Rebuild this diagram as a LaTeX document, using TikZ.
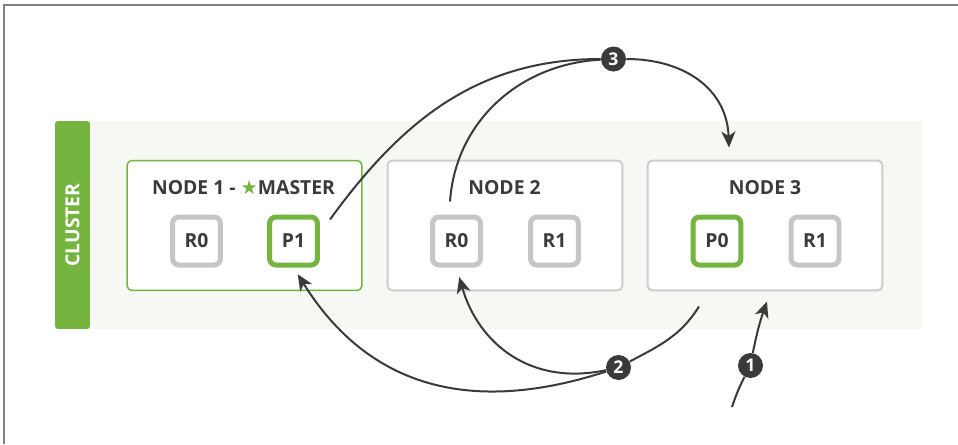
\documentclass[tikz,border=0pt]{standalone}
\usepackage{fontspec}
\setmainfont{Open Sans}
\newfontfamily\starfont{DejaVu Sans}
\usetikzlibrary{arrows.meta}

\definecolor{esgreen}{HTML}{74B43F}
\definecolor{shardgray}{HTML}{C6C6C6}
\definecolor{boxgray}{HTML}{CDCDCD}
\definecolor{clusterbg}{HTML}{F6F8F3}
\definecolor{inkdark}{HTML}{3A3A3A}

\tikzset{
	esnode/.style={draw=boxgray, line width=0.04cm, fill=white, rounded corners=0.1cm, minimum width=4.7cm, minimum height=2.6cm},
	shard/.style={draw=shardgray, line width=0.1cm, fill=white, rounded corners=0.13cm, minimum size=0.96cm, inner sep=0pt, font=\fontsize{11}{13}\selectfont\bfseries, text=inkdark},
	primary/.style={shard, draw=esgreen},
	title/.style={font=\fontsize{11}{13}\selectfont\bfseries, text=inkdark},
	stepdot/.style={circle, fill=inkdark, minimum size=0.5cm, inner sep=0pt, text=white, font=\fontsize{10}{12}\selectfont\bfseries},
	link/.style={draw=inkdark, line width=0.04cm},
	flow/.style={link, -{Stealth[length=0.32cm,width=0.28cm,inset=0.09cm]}}
}

\begin{document}
\begin{tikzpicture}[x=0.02cm, y=-0.02cm]
	\useasboundingbox (0,0) rectangle (958,444);
	\draw[gray, line width=0.04cm] (4,444) -- (4,5) -- (958,5);

	\fill[clusterbg] (88,121) rectangle (922,329);
	\node[fill=esgreen, rounded corners=0.06cm, rotate=90, minimum width=4.16cm, minimum height=0.7cm, text=white, font=\fontsize{11}{13}\selectfont\bfseries] (cluster) at (72.5,225) {CLUSTER};

	\node[esnode, draw=esgreen, line width=0.03cm] (node1) at (244.5,225.5) {};
	\node[esnode] (node2) at (505,225.5) {};
	\node[esnode] (node3) at (765,225.5) {};

	\node[title] (title1) at (243.5,188) {NODE 1 - {\starfont\color{esgreen}★}MASTER};
	\node[title] (title2) at (504.5,188) {NODE 2};
	\node[title] (title3) at (765,188) {NODE 3};

	\node[shard] (n1r0) at (196.5,241) {R0};
	\node[primary] (n1p1) at (293.5,241) {P1};
	\node[shard] (n2r0) at (456.5,241) {R0};
	\node[shard] (n2r1) at (554.5,241) {R1};
	\node[primary] (n3p0) at (717,241) {P0};
	\node[shard] (n3r1) at (815,241) {R1};

	\node[stepdot] (step1) at (750.5,365.5) {1};
	\node[stepdot] (step2) at (618.5,367.5) {2};
	\node[stepdot] (step3) at (613.5,59) {3};

	\coordinate (request) at (732,407);

	\draw[link] (request) to[bend left=4] (step1);
	\draw[flow] (step1) to[bend left=4] ([xshift=0.04cm,yshift=-0.2cm]node3.south);

	\draw[link] ([xshift=-1.32cm,yshift=-0.3cm]node3.south) to[out=238,in=28] (step2);
	\draw[flow, shorten >=0.16cm] (step2) to[out=198,in=-58,looseness=1.1] (n1p1.south);
	\draw[flow, shorten >=0.2cm] (step2) to[out=192,in=-74,looseness=1.1] (n2r0.south);

	\draw[link] ([xshift=0.2cm,yshift=-0.1cm]n1p1.north east) to[out=54,in=180] (step3);
	\draw[link] ([xshift=-0.13cm,yshift=0.26cm]n2r0.north) to[out=86,in=183] (step3);
	\draw[flow] (step3) to[out=0,in=92,looseness=1.1] ([xshift=-0.72cm,yshift=0.24cm]node3.north);
\end{tikzpicture}
\end{document}
